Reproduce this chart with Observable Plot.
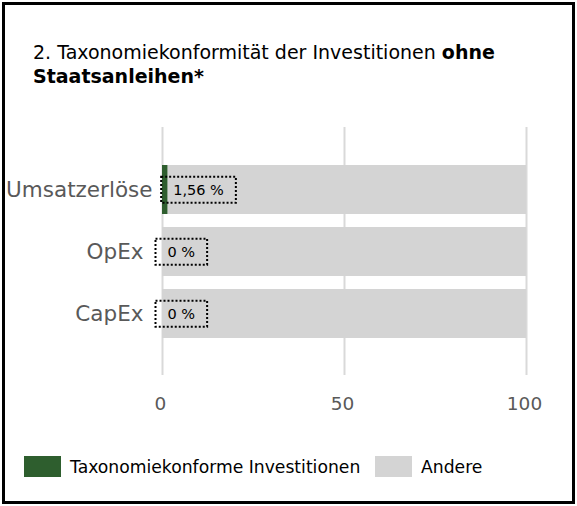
<!DOCTYPE html>
<html>
<head>
<meta charset="utf-8">
<script src="https://cdn.jsdelivr.net/npm/d3@7"></script>
<script src="https://cdn.jsdelivr.net/npm/@observablehq/plot@0.6"></script>
<style>
  html, body { margin: 0; padding: 0; background: #fff; }
  #frame { position: absolute; left: 2px; top: 2px; width: 573px; height: 502px; box-sizing: border-box; border: 3px solid #000; background: #fff; }
  .tline { position: absolute; left: 33px; font-family: "DejaVu Sans", sans-serif; font-size: 19px; line-height: 24px; color: #000; white-space: nowrap; }
  #chart { position: absolute; left: 0; top: 110px; }
  .legend { position: absolute; top: 456px; font-family: "DejaVu Sans", sans-serif; font-size: 17.2px; color: #000; display: flex; align-items: center; height: 21px; }
  .sw { display: inline-block; width: 37px; height: 21px; margin-right: 9px; }
</style>
</head>
<body>
<div id="frame"></div>
<div class="tline" style="top:40px">2. Taxonomiekonformität der Investitionen <b>ohne</b></div>
<div class="tline" style="top:64px"><b>Staatsanleihen*</b></div>
<div id="chart"></div>
<div class="legend" style="left:24px"><span class="sw" id="sw1"></span><span id="lg1"></span></div>
<div class="legend" style="left:375px"><span class="sw" id="sw2"></span><span id="lg2"></span></div>
<script>
const categories = ["Umsatzerlöse", "OpEx", "CapEx"];
const aligned = [1.56, 0, 0];
const labels = ["1,56 %", "0 %", "0 %"];
const seriesNames = ["Taxonomiekonforme Investitionen", "Andere"];
const seriesColors = ["#2e5e2e", "#d4d4d4"];
const xTicks = [0, 50, 100];

const rows = [];
categories.forEach((c, i) => {
  rows.push({cat: c, series: seriesNames[0], x1: 0, x2: aligned[i]});
  rows.push({cat: c, series: seriesNames[1], x1: aligned[i], x2: 100});
});
const labelRows = categories.map((c, i) => ({cat: c, v: aligned[i], label: labels[i]}));

document.getElementById("sw1").style.background = seriesColors[0];
document.getElementById("sw2").style.background = seriesColors[1];
document.getElementById("lg1").textContent = seriesNames[0];
document.getElementById("lg2").textContent = seriesNames[1];

const font = '"DejaVu Sans", sans-serif';
const plot = Plot.plot({
  width: 577,
  height: 310,
  marginLeft: 162,
  marginRight: 51,
  marginTop: 17,
  marginBottom: 45,
  style: {fontFamily: font, background: "transparent"},
  x: {domain: [0, 100], ticks: xTicks, label: null},
  y: {domain: categories, label: null, paddingInner: 0.21, paddingOuter: 0.6},
  color: {domain: seriesNames, range: seriesColors},
  marks: [
    Plot.ruleX(xTicks, {stroke: "#d9d9d9", strokeWidth: 2}),
    Plot.barX(rows, {y: "cat", x1: "x1", x2: "x2", fill: "series"}),
    Plot.axisX({ticks: xTicks, tickSize: 0, tickPadding: 21, dx: -2, fontSize: 18.5, color: "#595959", label: null}),
    Plot.axisY({ticks: categories.slice(0, 1), tickSize: 0, tickPadding: 10, fontSize: 21.5, color: "#595959", label: null}),
    Plot.axisY({ticks: categories.slice(1), tickSize: 0, tickPadding: 19, fontSize: 21.5, color: "#595959", label: null}),
    Plot.text(labelRows, {y: "cat", x: "v", text: "label", textAnchor: "start", dx: 5, fontSize: 14.5, fill: "#000", className: "dlabel"})
  ]
});
document.getElementById("chart").appendChild(plot);

// dotted boxes around the data labels, sized from the rendered text
const g = plot.querySelector(".dlabel");
if (g) {
  g.querySelectorAll("text").forEach(t => {
    const bb = t.getBBox();
    const cy = bb.y + bb.height / 2;
    const r = document.createElementNS("http://www.w3.org/2000/svg", "rect");
    const tr = t.getAttribute("transform");
    if (tr) r.setAttribute("transform", tr);
    r.setAttribute("x", bb.x - 12);
    r.setAttribute("y", cy - 13);
    r.setAttribute("width", bb.width + 24);
    r.setAttribute("height", 26);
    r.setAttribute("fill", "none");
    r.setAttribute("stroke", "#000");
    r.setAttribute("stroke-width", 2);
    r.setAttribute("stroke-dasharray", "2,2");
    g.insertBefore(r, t);
  });
}
</script>
</body>
</html>
